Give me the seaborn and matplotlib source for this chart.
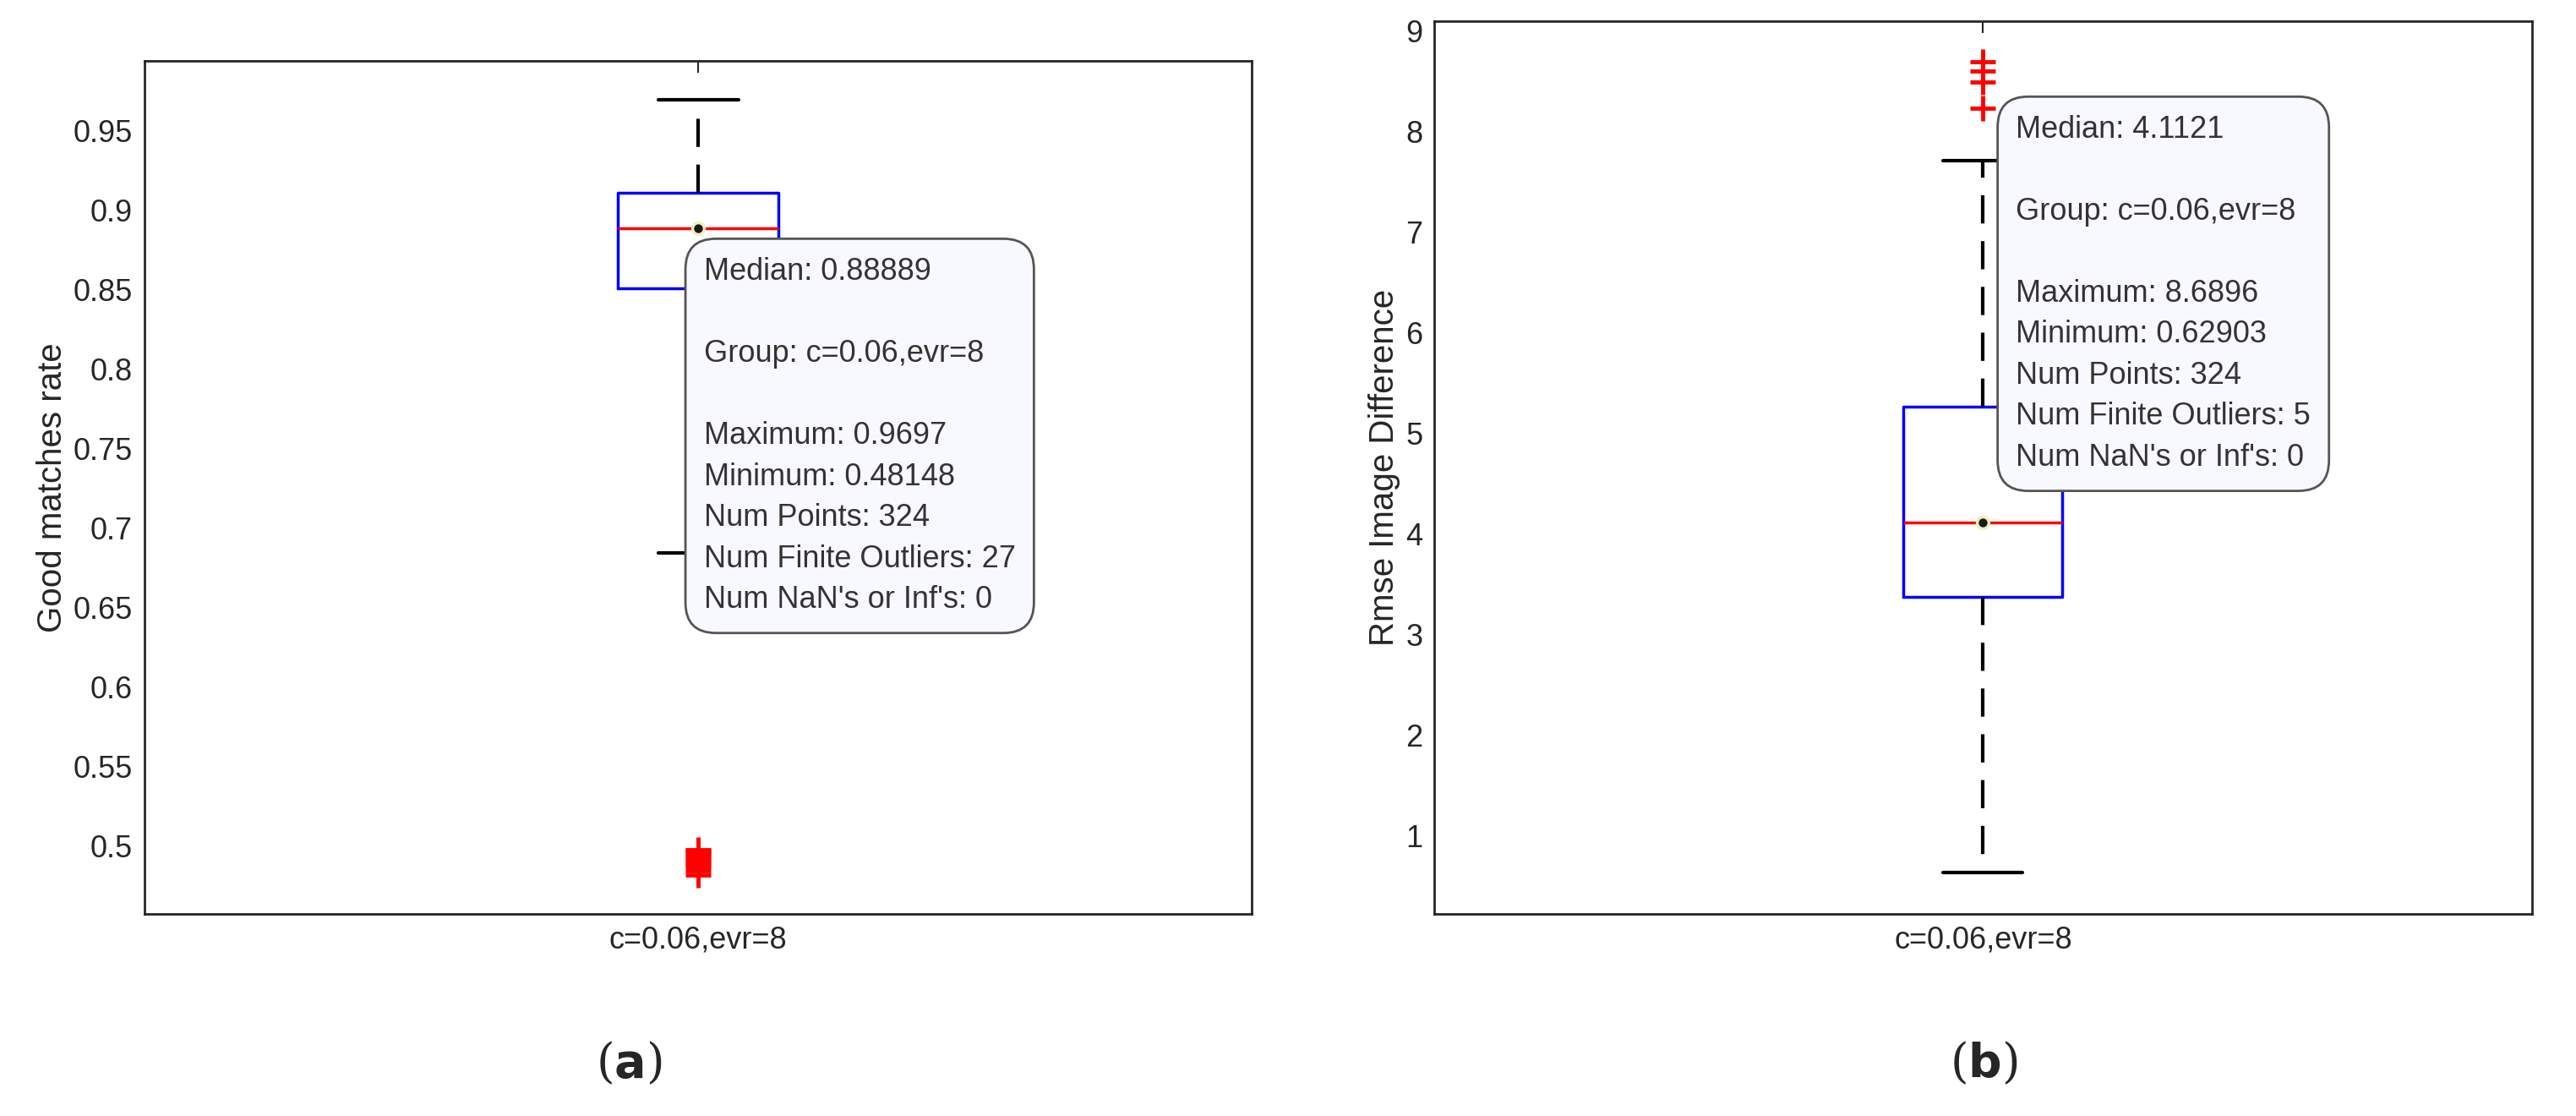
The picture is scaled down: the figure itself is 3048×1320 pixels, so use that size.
import matplotlib
matplotlib.use("Agg")
import matplotlib.pyplot as plt
import seaborn as sns

sns.set_style("white")
plt.rcParams["font.family"] = ["Liberation Sans", "DejaVu Sans"]

GROUP = "c=0.06,evr=8"

# panel (a): good matches rate
A_MED, A_Q1, A_Q3 = 0.88889, 0.851, 0.911
A_WLO, A_WHI = 0.684, 0.9697
A_FLIERS = [0.4815, 0.484, 0.486, 0.488, 0.4895, 0.491, 0.4925, 0.494,
            0.4955, 0.497, 0.4975]
A_YLIM = (0.4569, 0.9941)
A_YTICKS = [0.5, 0.55, 0.6, 0.65, 0.7, 0.75, 0.8, 0.85, 0.9, 0.95]
A_TIP = ["Median: 0.88889", "", "Group: c=0.06,evr=8", "", "Maximum: 0.9697",
         "Minimum: 0.48148", "Num Points: 324", "Num Finite Outliers: 27",
         "Num NaN's or Inf's: 0"]

# panel (b): rmse image difference
B_MED, B_Q1, B_Q3 = 4.1121, 3.37, 5.26
B_WLO, B_WHI = 0.629, 7.71
B_FLIERS = [8.23, 8.49, 8.60, 8.69]
B_YLIM = (0.22, 9.093)
B_YTICKS = [1, 2, 3, 4, 5, 6, 7, 8, 9]
B_TIP = ["Median: 4.1121", "", "Group: c=0.06,evr=8", "", "Maximum: 8.6896",
         "Minimum: 0.62903", "Num Points: 324", "Num Finite Outliers: 5",
         "Num NaN's or Inf's: 0"]

fig = plt.figure(figsize=(30.48, 13.2), dpi=100)
ax_a = fig.add_axes([0.0561, 0.181, 0.4299, 0.7645])
ax_b = fig.add_axes([0.5568, 0.181, 0.4260, 0.800])


def draw(ax, med, q1, q3, lo, hi, fliers, ylim, yticks, ylabel, tip, tip_xy):
    stats = [dict(med=med, q1=q1, q3=q3, whislo=lo, whishi=hi, fliers=fliers)]
    ax.bxp(stats, positions=[1], widths=0.145, capwidths=0.0725,
           boxprops=dict(color="blue", linewidth=2.5),
           medianprops=dict(color="red", linewidth=2.5),
           whiskerprops=dict(color="black", linewidth=3, linestyle=(0, (8, 5))),
           capprops=dict(color="black", linewidth=3),
           flierprops=dict(marker="+", markeredgecolor="red", markersize=22,
                           markeredgewidth=3.5, linestyle="none"))
    ax.set_xlim(0.5, 1.5)
    ax.set_ylim(*ylim)
    ax.set_yticks(yticks)
    ax.set_yticklabels([f"{t:g}" for t in yticks])
    ax.set_xticks([1])
    ax.set_xticklabels([GROUP])
    ax.set_ylabel(ylabel, fontsize=29, color="#262626")
    ax.tick_params(direction="in", labelsize=26, length=10, width=1.5,
                   colors="#262626", top=True, right=False, pad=10)
    for s in ax.spines.values():
        s.set_color("#262626")
        s.set_linewidth(2)
    ax.plot([1], [med], "o", color="#1a1a1a", markersize=10,
            markeredgecolor="#f0f0c0", markeredgewidth=2.5, zorder=7)
    ax.text(tip_xy[0], tip_xy[1], "\n".join(tip), transform=ax.transAxes,
            ha="left", va="top", fontsize=26, color="#333333", linespacing=1.5,
            zorder=6,
            bbox=dict(boxstyle="round,pad=0.6,rounding_size=1.0",
                      facecolor="#f8f8ff", edgecolor="#555555", linewidth=2))


draw(ax_a, A_MED, A_Q1, A_Q3, A_WLO, A_WHI, A_FLIERS, A_YLIM, A_YTICKS,
     "Good matches rate", A_TIP, (0.505, 0.77))
draw(ax_b, B_MED, B_Q1, B_Q3, B_WLO, B_WHI, B_FLIERS, B_YLIM, B_YTICKS,
     "Rmse Image Difference", B_TIP, (0.53, 0.895))

fig.text(0.244, 0.035, r"($\mathbf{a}$)", fontsize=40, ha="center",
         family="DejaVu Serif")
fig.text(0.770, 0.035, r"($\mathbf{b}$)", fontsize=40, ha="center",
         family="DejaVu Serif")

fig.savefig("out.png", dpi=100)
